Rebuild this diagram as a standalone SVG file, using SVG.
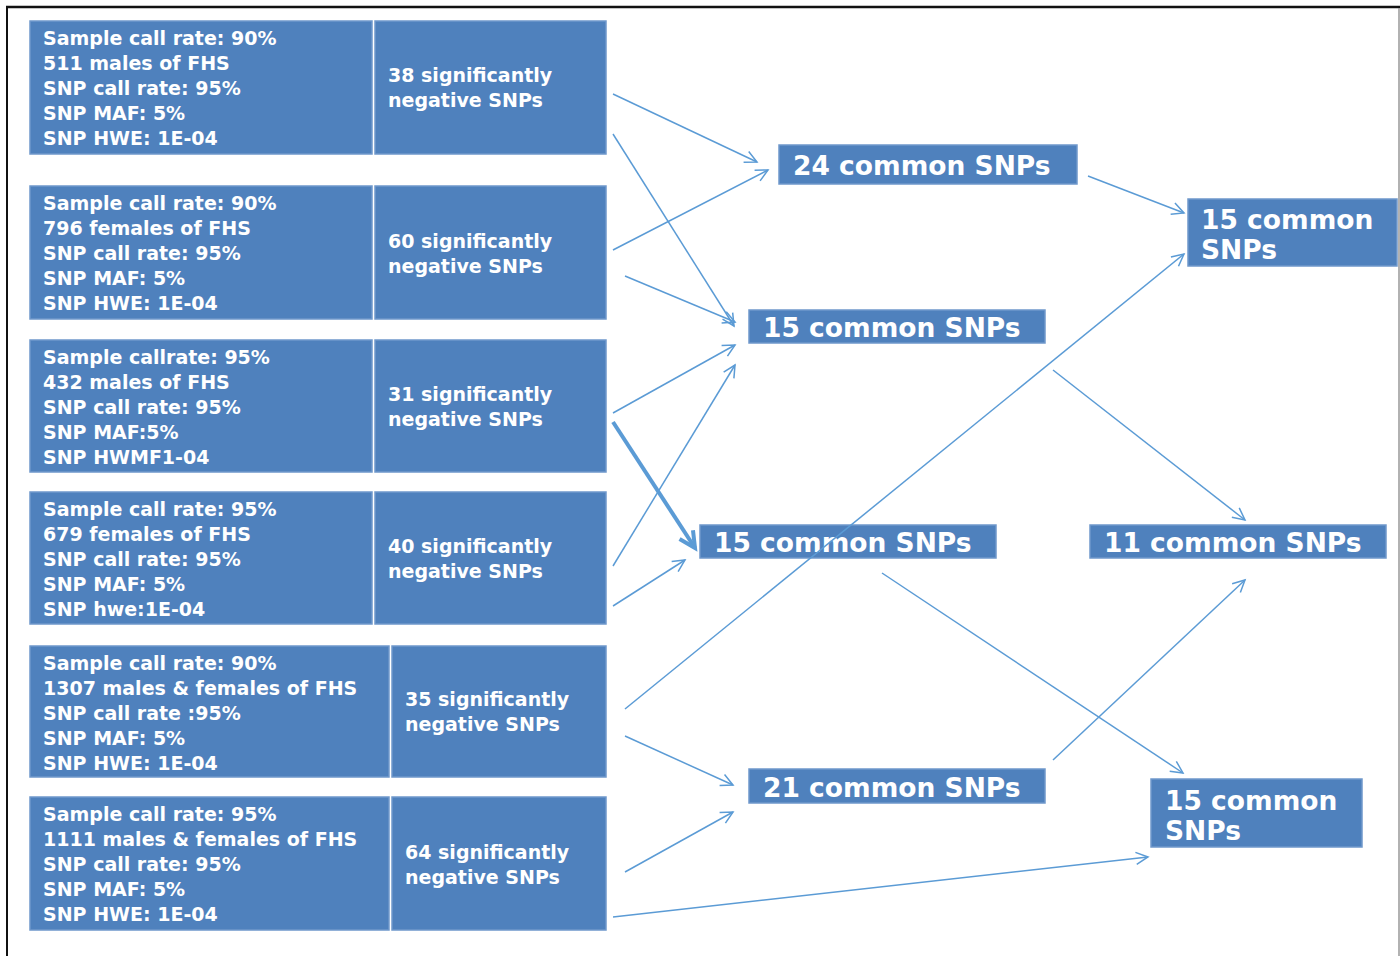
<svg xmlns="http://www.w3.org/2000/svg" width="1400" height="956" viewBox="0 0 1400 956">
<defs>
<style>
.cell{fill:#4f81bd;stroke:#6f98cb;stroke-width:1.5}
.t{font-family:"DejaVu Sans",sans-serif;font-weight:bold;font-size:19px;fill:#ffffff}
.tl{font-family:"DejaVu Sans",sans-serif;font-weight:bold;font-size:26.5px;fill:#ffffff}
.c{stroke:#5b9bd5;stroke-width:1.5;fill:none}
.ck{stroke:#5b9bd5;stroke-width:4;fill:none}
</style>
<marker id="ah" markerUnits="userSpaceOnUse" markerWidth="16" markerHeight="16" refX="13" refY="7" orient="auto">
<path d="M1,1 L13,7 L1,13" fill="none" stroke="#5b9bd5" stroke-width="1.5"/>
</marker>
<marker id="ahk" markerUnits="userSpaceOnUse" markerWidth="24" markerHeight="24" refX="18" refY="10" orient="auto">
<path d="M2,2 L18,10 L2,18" fill="none" stroke="#5b9bd5" stroke-width="4"/>
</marker>
</defs>
<rect width="1400" height="956" fill="#ffffff"/>
<g id="frame">
<line x1="6" y1="7" x2="1400" y2="7" stroke="#111" stroke-width="2.5"/>
<line x1="7" y1="6" x2="7" y2="956" stroke="#111" stroke-width="2"/>
<line x1="1399" y1="8" x2="1399" y2="956" stroke="#999" stroke-width="1.5"/>
</g>
<g id="n1">
<rect class="cell" x="30" y="21" width="342" height="133"/>
<rect class="cell" x="375" y="21" width="231" height="133"/>
<text class="t" x="43" y="45">Sample call rate: 90%</text>
<text class="t" x="43" y="70">511 males of FHS</text>
<text class="t" x="43" y="95">SNP call rate: 95%</text>
<text class="t" x="43" y="120">SNP MAF: 5%</text>
<text class="t" x="43" y="145">SNP HWE: 1E-04</text>
<text class="t" x="388" y="82">38 significantly</text>
<text class="t" x="388" y="107">negative SNPs</text>
</g>
<g id="n2">
<rect class="cell" x="30" y="186" width="342" height="133"/>
<rect class="cell" x="375" y="186" width="231" height="133"/>
<text class="t" x="43" y="210">Sample call rate: 90%</text>
<text class="t" x="43" y="235">796 females of FHS</text>
<text class="t" x="43" y="260">SNP call rate: 95%</text>
<text class="t" x="43" y="285">SNP MAF: 5%</text>
<text class="t" x="43" y="310">SNP HWE: 1E-04</text>
<text class="t" x="388" y="248">60 significantly</text>
<text class="t" x="388" y="273">negative SNPs</text>
</g>
<g id="n3">
<rect class="cell" x="30" y="340" width="342" height="132"/>
<rect class="cell" x="375" y="340" width="231" height="132"/>
<text class="t" x="43" y="364">Sample callrate: 95%</text>
<text class="t" x="43" y="389">432 males of FHS</text>
<text class="t" x="43" y="414">SNP call rate: 95%</text>
<text class="t" x="43" y="439">SNP MAF:5%</text>
<text class="t" x="43" y="464">SNP HWMF1-04</text>
<text class="t" x="388" y="401">31 significantly</text>
<text class="t" x="388" y="426">negative SNPs</text>
</g>
<g id="n4">
<rect class="cell" x="30" y="492" width="342" height="132"/>
<rect class="cell" x="375" y="492" width="231" height="132"/>
<text class="t" x="43" y="516">Sample call rate: 95%</text>
<text class="t" x="43" y="541">679 females of FHS</text>
<text class="t" x="43" y="566">SNP call rate: 95%</text>
<text class="t" x="43" y="591">SNP MAF: 5%</text>
<text class="t" x="43" y="616">SNP hwe:1E-04</text>
<text class="t" x="388" y="553">40 significantly</text>
<text class="t" x="388" y="578">negative SNPs</text>
</g>
<g id="n5">
<rect class="cell" x="30" y="646" width="359" height="131"/>
<rect class="cell" x="392" y="646" width="214" height="131"/>
<text class="t" x="43" y="670">Sample call rate: 90%</text>
<text class="t" x="43" y="695">1307 males &amp; females of FHS</text>
<text class="t" x="43" y="720">SNP call rate :95%</text>
<text class="t" x="43" y="745">SNP MAF: 5%</text>
<text class="t" x="43" y="770">SNP HWE: 1E-04</text>
<text class="t" x="405" y="706">35 significantly</text>
<text class="t" x="405" y="731">negative SNPs</text>
</g>
<g id="n6">
<rect class="cell" x="30" y="797" width="359" height="133"/>
<rect class="cell" x="392" y="797" width="214" height="133"/>
<text class="t" x="43" y="821">Sample call rate: 95%</text>
<text class="t" x="43" y="846">1111 males &amp; females of FHS</text>
<text class="t" x="43" y="871">SNP call rate: 95%</text>
<text class="t" x="43" y="896">SNP MAF: 5%</text>
<text class="t" x="43" y="921">SNP HWE: 1E-04</text>
<text class="t" x="405" y="859">64 significantly</text>
<text class="t" x="405" y="884">negative SNPs</text>
</g>
<g id="c24">
<rect class="cell" x="779" y="145" width="298" height="39"/>
<text class="tl" x="793" y="175">24 common SNPs</text>
</g>
<g id="c15a">
<rect class="cell" x="749" y="310" width="296" height="33"/>
<text class="tl" x="763" y="337">15 common SNPs</text>
</g>
<g id="c15b">
<rect class="cell" x="700" y="525" width="296" height="33"/>
<text class="tl" x="714" y="552">15 common SNPs</text>
</g>
<g id="c11">
<rect class="cell" x="1090" y="525" width="296" height="33"/>
<text class="tl" x="1104" y="552">11 common SNPs</text>
</g>
<g id="c21">
<rect class="cell" x="749" y="769" width="296" height="34"/>
<text class="tl" x="763" y="797">21 common SNPs</text>
</g>
<g id="c15tr">
<rect class="cell" x="1188" y="199" width="209" height="67"/>
<text class="tl" x="1201" y="229">15 common</text>
<text class="tl" x="1201" y="259">SNPs</text>
</g>
<g id="c15br">
<rect class="cell" x="1151" y="779" width="211" height="68"/>
<text class="tl" x="1165" y="810">15 common</text>
<text class="tl" x="1165" y="840">SNPs</text>
</g>
<g id="connectors">
<line class="c" x1="613" y1="94" x2="757" y2="162" marker-end="url(#ah)"/>
<line class="c" x1="613" y1="134" x2="734" y2="326" marker-end="url(#ah)"/>
<line class="c" x1="613" y1="250" x2="768" y2="170" marker-end="url(#ah)"/>
<line class="c" x1="625" y1="276" x2="735" y2="322" marker-end="url(#ah)"/>
<line class="c" x1="613" y1="413" x2="735" y2="345" marker-end="url(#ah)"/>
<line class="ck" x1="613" y1="422" x2="695" y2="548" marker-end="url(#ahk)"/>
<line class="c" x1="613" y1="566" x2="735" y2="365" marker-end="url(#ah)"/>
<line class="c" x1="613" y1="606" x2="685" y2="560" marker-end="url(#ah)"/>
<line class="c" x1="625" y1="709" x2="1184" y2="254" marker-end="url(#ah)"/>
<line class="c" x1="625" y1="736" x2="733" y2="785" marker-end="url(#ah)"/>
<line class="c" x1="625" y1="872" x2="733" y2="812" marker-end="url(#ah)"/>
<line class="c" x1="613" y1="917" x2="1148" y2="857" marker-end="url(#ah)"/>
<line class="c" x1="1088" y1="176" x2="1184" y2="213" marker-end="url(#ah)"/>
<line class="c" x1="1053" y1="370" x2="1245" y2="520" marker-end="url(#ah)"/>
<line class="c" x1="882" y1="573" x2="1183" y2="773" marker-end="url(#ah)"/>
<line class="c" x1="1053" y1="760" x2="1245" y2="580" marker-end="url(#ah)"/>
</g>
</svg>
